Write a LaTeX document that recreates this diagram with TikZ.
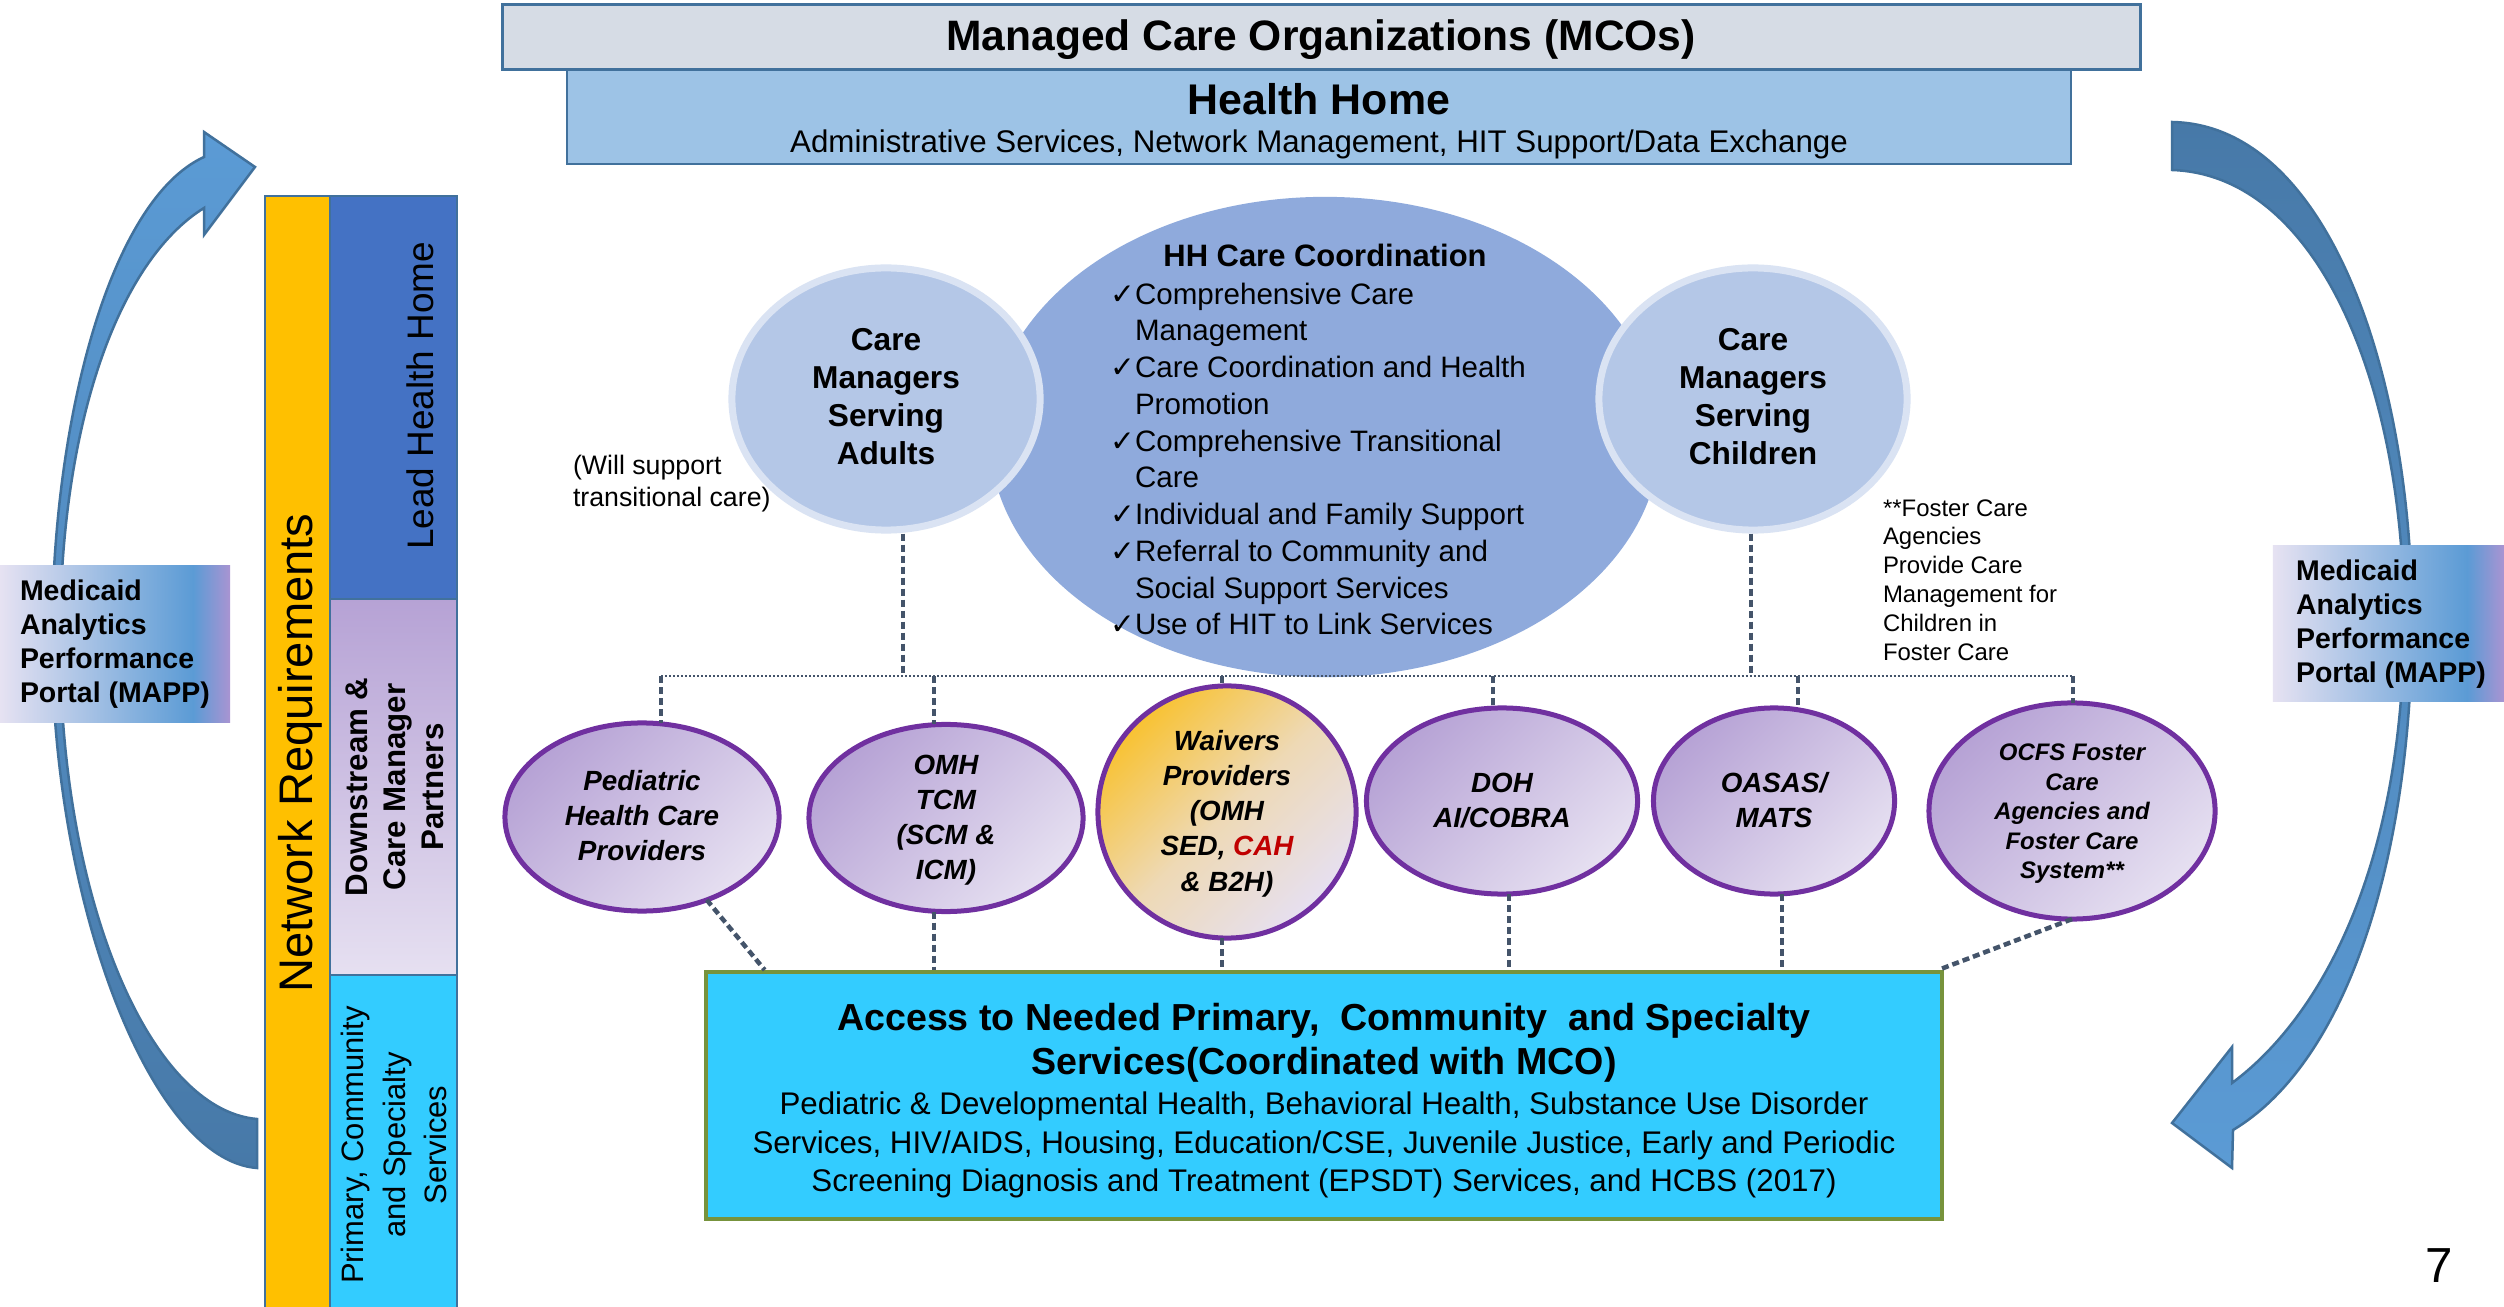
\documentclass[tikz,border=0pt]{standalone}
\usepackage{fontspec}
\setmainfont{Liberation Sans}
\newfontfamily\dejavu{DejaVu Sans}
\usetikzlibrary{shapes.geometric}
\newcommand\fsz[2]{\fontsize{#1}{#2}\selectfont}
\newcommand\ctab[1]{\smash{\raisebox{-2.5pt}{\begin{tabular}{@{}c@{}}#1\end{tabular}}}}
\newcommand\chk{\makebox[0.25cm][l]{\dejavu ✓}}
\newcommand\ind{\hspace*{0.25cm}}
\definecolor{mcofill}{HTML}{D6DCE5}
\definecolor{bord}{HTML}{41719C}
\definecolor{hhfill}{HTML}{9DC3E6}
\definecolor{bigell}{HTML}{8FAADC}
\definecolor{smell}{HTML}{B4C7E7}
\definecolor{smbord}{HTML}{DAE3F3}
\definecolor{leadblue}{HTML}{4472C4}
\definecolor{nryellow}{HTML}{FFC000}
\definecolor{cyanbox}{HTML}{33CCFF}
\definecolor{olivebord}{HTML}{77933C}
\definecolor{purpbord}{HTML}{7030A0}
\definecolor{purpA}{HTML}{B6A2D5}
\definecolor{purpB}{HTML}{E6E0F1}
\definecolor{gold}{HTML}{F8C232}
\definecolor{waivmid}{HTML}{EED9B5}
\definecolor{slate}{HTML}{44546A}
\definecolor{arrowlight}{HTML}{5B9BD5}
\definecolor{arrowdark}{HTML}{4779A8}
\definecolor{cahred}{HTML}{C00000}
\definecolor{mappA}{HTML}{E6E2F2}
\definecolor{mappC}{HTML}{A994D2}
\pgfdeclarehorizontalshading{mapp}{100bp}{color(0bp)=(mappA); color(25bp)=(mappA); color(67bp)=(arrowlight); color(75bp)=(mappC); color(100bp)=(mappC)}
\begin{document}
\begin{tikzpicture}[x=0.01cm,y=-0.01cm,
  box/.style={draw=bord, line width=0.2mm, inner sep=0, outer sep=0},
  pell/.style={ellipse, draw=purpbord, line width=0.5mm, inner sep=0, outer sep=0,
     top color=purpA, bottom color=purpB, shading angle=45, font=\fsz{7.9}{10}\bfseries\itshape},
  sell/.style={ellipse, draw=smbord, line width=0.7mm, fill=smell, inner sep=0,
     minimum width=3.08cm, minimum height=2.62cm, font=\fsz{9}{10.8}\bfseries},
  dashline/.style={draw=slate, line width=0.45mm, dash pattern=on 0.7mm off 0.4mm},
  dotline/.style={draw=slate, line width=0.25mm, dash pattern=on 0.2mm off 0.2mm},
  bigarrow/.style={draw=bord, line width=0.25mm},
  txt/.style={inner sep=0, outer sep=0}
]
\fill[white] (0,0) rectangle (2504,1307);
\useasboundingbox (0,0) rectangle (2504,1307);

% curved arrows
\path[bigarrow, top color=arrowlight, bottom color=arrowdark]
  (257,1168) .. controls (150,1160) and (52,900) .. (52,640)
  .. controls (52,420) and (110,200) .. (204,157)
  -- (204,132) -- (255,167) -- (204,235) -- (204,208)
  .. controls (120,260) and (60,420) .. (60,640)
  .. controls (60,900) and (150,1110) .. (257,1119) -- cycle;
\path[bigarrow, top color=arrowdark, bottom color=arrowlight]
  (2172,122) .. controls (2330,125) and (2412,380) .. (2412,620)
  .. controls (2412,850) and (2350,1060) .. (2233,1130)
  -- (2232,1168) -- (2172,1123) -- (2232,1047) -- (2232,1083)
  .. controls (2330,1010) and (2404,850) .. (2404,620)
  .. controls (2404,390) and (2320,175) .. (2172,170) -- cycle;

% MAPP boxes
\node[txt, shade, shading=mapp, minimum width=2.30cm, minimum height=1.56cm] (mappL) at (115,644) {};
\node[txt, anchor=west, align=left, font=\fsz{8.1}{9.6}\bfseries] (mappLt) at (20,644) {Medicaid\\Analytics\\Performance\\Portal (MAPP)};
\node[txt, shade, shading=mapp, minimum width=2.31cm, minimum height=1.55cm] (mappR) at (2388.5,623.5) {};
\node[txt, anchor=west, align=left, font=\fsz{8.1}{9.6}\bfseries] (mappRt) at (2296,624) {Medicaid\\Analytics\\Performance\\Portal (MAPP)};

% top boxes
\node[box, fill=hhfill, minimum width=15.04cm, minimum height=0.95cm] (hh) at (1319,116.5) {};
\node[box, line width=0.3mm, fill=mcofill, minimum width=16.37cm, minimum height=0.64cm] (mco) at (1321.5,37) {};
\node[txt, font=\fsz{12.1}{14}\bfseries] (mcot) at (1321,40) {Managed Care Organizations (MCOs)};
\node[txt, font=\fsz{12.2}{14}\bfseries] (hht) at (1319,99) {Health Home};
\node[txt, font=\fsz{8.9}{11}] (hhs) at (1319,144) {Administrative Services, Network Management, HIT Support/Data Exchange};

% left column
\node[box, fill=nryellow, minimum width=0.65cm, minimum height=11.16cm] (nr) at (297.5,754) {};
\node[box, fill=leadblue, minimum width=1.27cm, minimum height=4.03cm] (lead) at (393.5,397.5) {};
\node[box, top color=purpA, bottom color=purpB, minimum width=1.27cm, minimum height=3.76cm] (down) at (393.5,787) {};
\node[box, fill=cyanbox, minimum width=1.27cm, minimum height=3.35cm] (prim) at (393.5,1142.5) {};
\node[txt, rotate=90, font=\fsz{13.4}{15}] (nrt) at (300,753) {Network Requirements};
\node[txt, rotate=90, font=\fsz{10.5}{12}] (leadt) at (420,396) {Lead Health Home};
\node[txt, rotate=90, align=center, font=\fsz{8.9}{10.8}\bfseries] (downt) at (395,787) {Downstream \&\\Care Manager\\Partners};
\node[txt, rotate=90, align=center, font=\fsz{8.8}{11.7}] (primt) at (394,1145) {Primary, Community\\and Specialty\\Services};

% care coordination ellipses
\node[ellipse, fill=bigell, inner sep=0, minimum width=6.70cm, minimum height=4.80cm] (hhcc) at (1325,437) {};
\node[sell] (adults) at (886,399) {\ctab{Care\\Managers\\Serving\\Adults}};
\node[sell] (children) at (1753,399) {\ctab{Care\\Managers\\Serving\\Children}};
\node[txt, font=\fsz{8.8}{10}\bfseries] (hhcct) at (1325,255) {HH Care Coordination};
\node[txt, anchor=west, align=left, font=\fsz{8.4}{10.45}] (hhccl) at (1110,459) {\chk Comprehensive Care\\
\ind Management\\
\chk Care Coordination and Health\\
\ind Promotion\\
\chk Comprehensive Transitional\\
\ind Care\\
\chk Individual and Family Support\\
\chk Referral to Community and\\
\ind Social Support Services\\
\chk Use of HIT to Link Services};
\node[txt, anchor=west, align=left, font=\fsz{7.6}{9.1}] (will) at (573,484) {(Will support\\transitional care)};
\node[txt, anchor=west, align=left, font=\fsz{6.8}{8.2}] (foster) at (1883,580) {**Foster Care\\Agencies\\Provide Care\\Management for\\Children in\\Foster Care};

% bottom box
\node[draw=olivebord, line width=0.4mm, fill=cyanbox, inner sep=0, minimum width=12.36cm, minimum height=2.47cm] (acc) at (1324,1095.5) {};
\node[txt, align=center, font=\fsz{10.7}{12.5}\bfseries] (acct) at (1324,1043) {Access to Needed Primary,\ \ Community\ \ and Specialty\\Services(Coordinated with MCO)};
\node[txt, align=center, font=\fsz{8.9}{10.9}] (accb) at (1324,1145) {Pediatric \& Developmental Health, Behavioral Health, Substance Use Disorder\\Services, HIV/AIDS, Housing, Education/CSE, Juvenile Justice, Early and Periodic\\Screening Diagnosis and Treatment (EPSDT) Services, and HCBS (2017)};

% partner ellipses
\node[pell, minimum width=2.74cm, minimum height=1.88cm] (ped) at (642,817) {\ctab{Pediatric\\Health Care\\Providers}};
\node[pell, minimum width=2.74cm, minimum height=1.87cm] (omh) at (946,818) {\ctab{OMH\\TCM\\(SCM \&\\ICM)}};
\node[pell, top color=gold, bottom color=purpB, middle color=waivmid, shading angle=45, minimum width=2.58cm, minimum height=2.52cm] (waiv) at (1227,812) {\ctab{Waivers\\Providers\\(OMH\\SED, \textcolor{cahred}{CAH}\\\& B2H)}};
\node[pell, minimum width=2.71cm, minimum height=1.86cm] (doh) at (1502,801) {\ctab{DOH\\AI/COBRA}};
\node[pell, minimum width=2.41cm, minimum height=1.86cm] (oasas) at (1774,801) {\ctab{OASAS/\\MATS}};
\node[pell, font=\fsz{6.8}{8.4}\bfseries\itshape, minimum width=2.86cm, minimum height=2.16cm] (ocfs) at (2072,811) {\ctab{OCFS Foster\\Care\\Agencies and\\Foster Care\\System**}};

% connectors
\coordinate (hl) at (661,676);
\coordinate (hr) at (2073,676);
\coordinate (av) at (903,676);
\coordinate (cv) at (1751,676);
\coordinate (s2) at (934,676);
\coordinate (s3) at (1222,676);
\coordinate (s4) at (1493,676);
\coordinate (s5) at (1798,676);
\coordinate (d4) at (1509,676);
\coordinate (d5) at (1782,676);
\draw[dotline] (hl) -- (hr);
\draw[dashline] (av |- adults.south) -- (av);
\draw[dashline] (cv |- children.south) -- (cv);
\draw[dashline] (hl) -- (hl |- ped.north);
\draw[dashline] (s2) -- (s2 |- omh.north);
\draw[dashline] (s3) -- (s3 |- waiv.north);
\draw[dashline] (s4) -- (s4 |- doh.north);
\draw[dashline] (s5) -- (s5 |- oasas.north);
\draw[dashline] (hr) -- (hr |- ocfs.north);
\draw[dashline] (ped.-52) -- ([xshift=0.61cm]acc.north west);
\draw[dashline] (s2 |- omh.south) -- (s2 |- acc.north);
\draw[dashline] (s3 |- waiv.south) -- (s3 |- acc.north);
\draw[dashline] (d4 |- doh.south) -- (d4 |- acc.north);
\draw[dashline] (d5 |- oasas.south) -- (d5 |- acc.north);
\draw[dashline] (ocfs.south) -- ([xshift=-0.06cm]acc.north east);

\node[txt, font=\fsz{14}{16}] (pg) at (2439,1266) {7};
\end{tikzpicture}
\end{document}
